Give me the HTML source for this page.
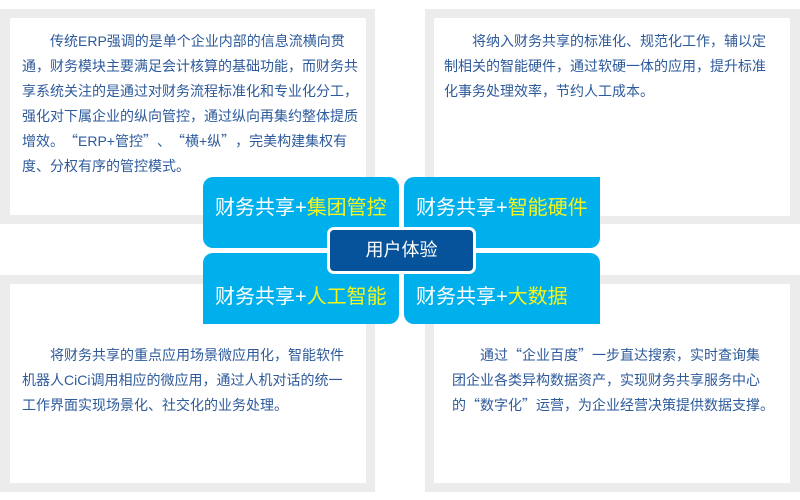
<!DOCTYPE html>
<html><head><meta charset="utf-8"><style>
*{margin:0;padding:0;box-sizing:border-box}
body{width:800px;height:500px;background:#fff;position:relative;overflow:hidden;font-family:"Liberation Sans","Noto Sans CJK SC",sans-serif}
.g{position:absolute;background:#ececec}
.w{position:absolute;background:#fff}
.t{position:absolute;color:#2d5a9b;font-size:14px;line-height:25px;white-space:nowrap}
.o,.e{display:inline-block;width:14px;font-family:"Noto Sans CJK SC",sans-serif}
.o{text-align:right}.e{text-align:left}
.b{position:absolute;background:#00b0ec;color:#fff;font-size:20px;width:196px;height:71px;border-radius:10px;padding-left:12px}
.b span{color:#f4f41c}
.c{position:absolute;left:327px;top:227px;width:149px;height:47px;background:#07539b;border:3px solid #fff;border-radius:7px;color:#fff;font-size:18px;text-align:center;line-height:41px}
</style></head><body>
<div class="g" style="left:0;top:9px;width:375px;height:215px"></div>
<div class="w" style="left:10px;top:18px;width:356px;height:197px"></div>
<div class="g" style="left:425px;top:9px;width:375px;height:215px"></div>
<div class="w" style="left:434px;top:18px;width:356px;height:198px"></div>
<div class="g" style="left:0;top:275px;width:375px;height:217px"></div>
<div class="w" style="left:10px;top:284px;width:356px;height:199px"></div>
<div class="g" style="left:425px;top:275px;width:375px;height:217px"></div>
<div class="w" style="left:434px;top:284px;width:356px;height:199px"></div>

<div class="t" style="left:22px;top:29px">　　传统ERP强调的是单个企业内部的信息流横向贯<br>通，财务模块主要满足会计核算的基础功能，而财务共<br>享系统关注的是通过对财务流程标准化和专业化分工，<br>强化对下属企业的纵向管控，通过纵向再集约整体提质<br>增效。<span class="o">“</span>ERP+管控<span class="e">”</span>、<span class="o">“</span>横+纵<span class="e">”</span>，完美构建集权有<br>度、分权有序的管控模式。</div>
<div class="t" style="left:444px;top:29px">　　将纳入财务共享的标准化、规范化工作，辅以定<br>制相关的智能硬件，通过软硬一体的应用，提升标准<br>化事务处理效率，节约人工成本。</div>
<div class="t" style="left:22px;top:343px">　　将财务共享的重点应用场景微应用化，智能软件<br>机器人CiCi调用相应的微应用，通过人机对话的统一<br>工作界面实现场景化、社交化的业务处理。</div>
<div class="t" style="left:452px;top:343px">　　通过<span class="o">“</span>企业百度<span class="e">”</span>一步直达搜索，实时查询集<br>团企业各类异构数据资产，实现财务共享服务中心<br>的<span class="o">“</span>数字化<span class="e">”</span>运营，为企业经营决策提供数据支撑。</div>

<div class="b" style="left:203px;top:177px;border-bottom-right-radius:0;line-height:62px">财务共享+<span>集团管控</span></div>
<div class="b" style="left:404px;top:177px;border-top-right-radius:0;line-height:62px">财务共享+<span>智能硬件</span></div>
<div class="b" style="left:203px;top:253px;border-bottom-left-radius:0;line-height:88px">财务共享+<span>人工智能</span></div>
<div class="b" style="left:404px;top:253px;border-bottom-right-radius:0;line-height:88px">财务共享+<span>大数据</span></div>
<div class="c">用户体验</div>
</body></html>
